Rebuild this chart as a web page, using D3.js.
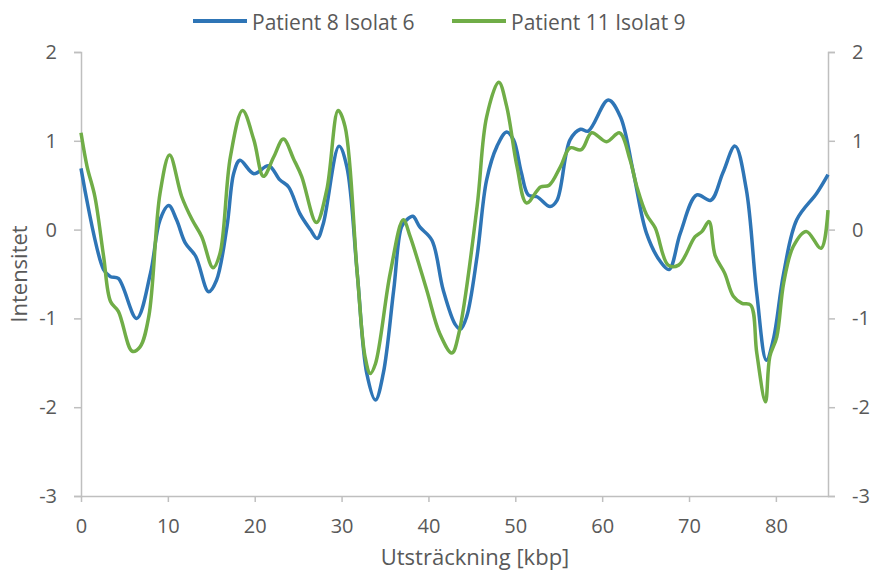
<!DOCTYPE html>
<html>
<head>
<meta charset="utf-8">
<style>
  body { margin: 0; background: #fff; }
  text { font-family: "Open Sans", "Liberation Sans", sans-serif; fill: #595959; }
</style>
</head>
<body>
<svg id="chart" width="872" height="573"></svg>
<script src="https://d3js.org/d3.v7.min.js"></script>
<script>
// series names
const seriesNames = ['Patient 8 Isolat 6', 'Patient 11 Isolat 9'];

// Patient 8 Isolat 6 (kbp, intensity)
const p8x = [0, 2.6, 3.4, 4.3, 6.4, 8.0, 9.1, 10.1, 11.0, 12.0, 13.2, 14.7, 15.6, 16.8, 17.6, 18.3, 19.9, 21.6, 22.9, 23.9, 25.2, 26.4, 27.2, 27.9, 29.7, 30.6, 31.8, 32.9, 33.9, 34.8, 36.0, 36.9, 37.5, 38.2, 39.0, 40.4, 41.7, 43.1, 43.7, 44.4, 45.6, 46.7, 47.9, 49.0, 49.8, 50.7, 51.5, 52.5, 54.0, 54.8, 56.3, 57.5, 58.4, 60.7, 62.1, 63.6, 65.1, 66.7, 67.7, 69.0, 70.9, 72.5, 73.9, 75.3, 76.6, 77.8, 78.9, 79.7, 80.9, 82.4, 84.7, 86.0];
const p8y = [0.69, -0.45, -0.53, -0.55, -1.0, -0.49, 0.11, 0.27, 0.11, -0.15, -0.30, -0.70, -0.57, 0.03, 0.64, 0.78, 0.63, 0.72, 0.56, 0.48, 0.18, 0.0, -0.10, 0.07, 0.94, 0.71, -0.49, -1.62, -1.92, -1.62, -0.68, 0.03, 0.11, 0.15, 0.03, -0.12, -0.68, -1.07, -1.12, -0.98, -0.30, 0.56, 0.94, 1.10, 1.01, 0.64, 0.39, 0.37, 0.26, 0.33, 1.01, 1.13, 1.11, 1.46, 1.27, 0.64, -0.04, -0.36, -0.45, -0.04, 0.39, 0.33, 0.64, 0.94, 0.45, -0.72, -1.47, -1.24, -0.49, 0.11, 0.41, 0.62];

// Patient 11 Isolat 9 (kbp, intensity)
const p11x = [0, 0.7, 1.6, 2.6, 3.4, 4.3, 5.9, 6.8, 7.8, 9.1, 10.2, 11.6, 12.8, 13.9, 15.2, 16.0, 17.2, 18.6, 19.9, 21.0, 22.2, 23.3, 24.5, 25.4, 27.1, 28.3, 29.6, 30.4, 31.8, 32.7, 33.3, 33.9, 35.6, 37.1, 37.9, 39.8, 41.3, 42.7, 43.5, 45.6, 46.7, 48.1, 49.0, 50.2, 51.3, 52.9, 53.9, 55.2, 56.3, 57.6, 58.8, 60.5, 62.0, 63.2, 64.0, 65.1, 66.1, 67.6, 68.8, 70.7, 71.5, 72.3, 73.0, 74.1, 75.1, 76.1, 77.1, 77.8, 78.8, 79.3, 80.1, 80.9, 82.0, 83.5, 85.2, 86.0];
const p11y = [1.09, 0.71, 0.37, -0.30, -0.81, -0.92, -1.37, -1.32, -0.98, 0.41, 0.84, 0.37, 0.11, -0.08, -0.43, -0.27, 0.82, 1.34, 1.01, 0.60, 0.82, 1.02, 0.79, 0.60, 0.08, 0.45, 1.34, 1.16, -0.49, -1.43, -1.62, -1.51, -0.49, 0.11, -0.08, -0.68, -1.17, -1.39, -1.17, 0.26, 1.27, 1.66, 1.39, 0.71, 0.30, 0.48, 0.50, 0.71, 0.92, 0.90, 1.09, 0.99, 1.09, 0.79, 0.48, 0.17, 0.02, -0.40, -0.40, -0.08, -0.02, 0.09, -0.29, -0.49, -0.75, -0.83, -0.85, -1.39, -1.94, -1.43, -1.21, -0.60, -0.19, -0.02, -0.21, 0.22];

const xTicks = [0, 10, 20, 30, 40, 50, 60, 70, 80];
const yTicks = [-3, -2, -1, 0, 1, 2];
const colors = ['#2e75b6', '#70ad47'];

const svg = d3.select('#chart');
const margin = {top: 52, right: 44, bottom: 77, left: 81};
const W = +svg.attr('width'), H = +svg.attr('height');
const innerW = W - margin.left - margin.right;
const innerH = H - margin.top - margin.bottom;

const x = d3.scaleLinear().domain([0, 86]).range([0, innerW]);
const y = d3.scaleLinear().domain([-3, 2]).range([innerH, 0]);

const g = svg.append('g').attr('transform', `translate(${margin.left},${margin.top})`);

// plain hyphen minus, like the original
const fmt = d => String(d);

function styleAxis(sel) {
  sel.select('.domain').attr('stroke', '#bfbfbf').attr('stroke-width', 1.5).attr('fill', 'none');
  sel.selectAll('.tick line').attr('stroke', '#bfbfbf').attr('stroke-width', 1.5);
  sel.selectAll('.tick text').attr('font-size', 20).attr('fill', '#595959');
}

g.append('g')
  .attr('transform', `translate(0,${innerH})`)
  .call(d3.axisBottom(x).tickValues(xTicks).tickFormat(fmt).tickSize(6).tickSizeOuter(0).tickPadding(17))
  .call(styleAxis);

g.append('g')
  .call(d3.axisLeft(y).tickValues(yTicks).tickFormat(fmt).tickSize(7).tickSizeOuter(7).tickPadding(17))
  .call(styleAxis);

g.append('g')
  .attr('transform', `translate(${innerW},0)`)
  .call(d3.axisRight(y).tickValues(yTicks).tickFormat(fmt).tickSize(7).tickSizeOuter(7).tickPadding(17))
  .call(styleAxis);

const series = [
  {name: seriesNames[0], xs: p8x, ys: p8y},
  {name: seriesNames[1], xs: p11x, ys: p11y}
];

const line = d3.line()
  .x(d => x(d[0]))
  .y(d => y(d[1]))
  .curve(d3.curveCatmullRom.alpha(0.5));

series.forEach((s, i) => {
  g.append('path')
    .datum(d3.zip(s.xs, s.ys))
    .attr('fill', 'none')
    .attr('stroke', colors[i])
    .attr('stroke-width', 3.5)
    .attr('stroke-linejoin', 'round')
    .attr('d', line);
});

// axis titles
svg.append('text')
  .attr('x', 475)
  .attr('y', 565)
  .attr('text-anchor', 'middle')
  .attr('font-size', 22)
  .text('Utsträckning [kbp]');

svg.append('text')
  .attr('transform', `translate(27,${margin.top + innerH / 2}) rotate(-90)`)
  .attr('text-anchor', 'middle')
  .attr('font-size', 22)
  .text('Intensitet');

// legend
const legend = svg.append('g');
const legX = [193, 452];
series.forEach((s, i) => {
  legend.append('line')
    .attr('x1', legX[i]).attr('x2', legX[i] + 54)
    .attr('y1', 21).attr('y2', 21)
    .attr('stroke', colors[i]).attr('stroke-width', 4);
  legend.append('text')
    .attr('x', legX[i] + 59).attr('y', 30)
    .attr('font-size', 21)
    .text(s.name);
});
</script>
</body>
</html>
